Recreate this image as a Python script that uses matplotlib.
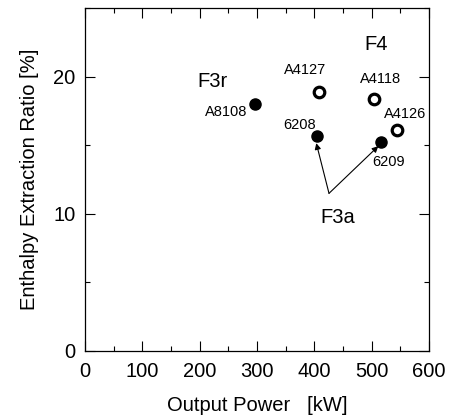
import numpy as np
import matplotlib
matplotlib.use('Agg')
import matplotlib.pyplot as plt
from matplotlib.ticker import MultipleLocator

plt.rcParams['font.family'] = ['Liberation Sans', 'DejaVu Sans']

# F3 runs (filled) and F4 runs (open)
f3_names = ['A8108', '6208', '6209']
f3_power = [297, 404, 516]
f3_ratio = [18.0, 15.7, 15.2]

f4_names = ['A4127', 'A4118', 'A4126']
f4_power = [409, 504, 544]
f4_ratio = [18.85, 18.4, 16.1]

# label positions (data coords)
name_pos = {'A8108': (246, 17.45), '6208': (375, 16.5), '6209': (530, 13.75),
            'A4127': (384, 20.5), 'A4118': (516, 19.85), 'A4126': (558, 17.3)}
group_pos = {'F3r': (223, 19.64), 'F4': (507, 22.33), 'F3a': (441, 9.75)}

fig = plt.figure(figsize=(4.53, 4.17), dpi=100)
ax = fig.add_axes([0.1876, 0.1583, 0.7594, 0.8225])

ax.plot(f3_power, f3_ratio, 'o', color='black', ms=8, ls='none', zorder=3)
ax.plot(f4_power, f4_ratio, 'o', mfc='white', mec='black', ms=7.6, mew=2.3,
        ls='none', zorder=3)

for name, (tx, ty) in name_pos.items():
    ax.text(tx, ty, name, fontsize=10.5, ha='center', va='center')
for name, (tx, ty) in group_pos.items():
    ax.text(tx, ty, name, fontsize=14.5, ha='center', va='center')

# arrows from F3a label to the two F3a runs
start = (425.6, 11.49)
for end in [(403.4, 15.15), (511.6, 14.93)]:
    ax.annotate('', xy=end, xytext=start,
                arrowprops=dict(arrowstyle='-|>', color='black', lw=0.8,
                                mutation_scale=9, shrinkA=0, shrinkB=0))

ax.set_xlim(0, 600)
ax.set_ylim(0, 25)
ax.xaxis.set_major_locator(MultipleLocator(100))
ax.xaxis.set_minor_locator(MultipleLocator(50))
ax.yaxis.set_major_locator(MultipleLocator(10))
ax.yaxis.set_minor_locator(MultipleLocator(5))
ax.tick_params(which='both', direction='in', top=True, right=True,
               labelsize=14.5, width=0.8)
ax.tick_params(which='major', length=7)
ax.tick_params(axis='x', which='major', pad=8)
ax.tick_params(axis='y', which='major', pad=7)
ax.tick_params(which='minor', length=3.5)
for s in ax.spines.values():
    s.set_linewidth(0.9)

ax.set_xlabel('Output Power   [kW]', fontsize=14.5, labelpad=11)
ax.set_ylabel('Enthalpy Extraction Ratio [%]', fontsize=14.5, labelpad=10)

fig.savefig('out.png', dpi=100)
